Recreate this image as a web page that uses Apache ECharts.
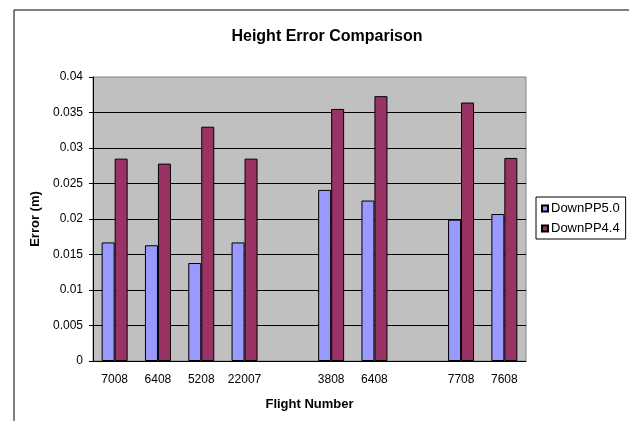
<!DOCTYPE html>
<html>
<head>
<meta charset="utf-8">
<script src="https://cdn.jsdelivr.net/npm/echarts@6/dist/echarts.min.js"></script>
<style>
  html, body { margin: 0; padding: 0; background: #fff; }
  #chart { width: 629px; height: 421px; }
</style>
</head>
<body>
<div id="chart"></div>
<script>
// flights (blank slots are gaps between groups)
const flights = ['7008', '6408', '5208', '22007', '', '3808', '6408', '', '7708', '7608'];
const downPP50 = [0.0167, 0.0163, 0.0138, 0.0167, '-', 0.0241, 0.0226, '-', 0.0199, 0.0207];
const downPP44 = [0.0285, 0.0278, 0.0330, 0.0285, '-', 0.0355, 0.0373, '-', 0.0364, 0.0286];

const font = 'Liberation Sans, Arial, sans-serif';

const chart = echarts.init(document.getElementById('chart'), null, { renderer: 'canvas' });

chart.setOption({
  animation: false,
  backgroundColor: '#fff',
  graphic: [
    {
      type: 'rect',
      shape: { x: 14, y: 10, width: 640, height: 430 },
      style: { fill: 'none', stroke: '#000', lineWidth: 1 },
      silent: true,
      z: -1
    }
  ],
  title: {
    text: 'Height Error Comparison',
    left: 322,
    top: 24,
    textAlign: 'center',
    textStyle: { fontFamily: font, fontSize: 16, fontWeight: 'bold', color: '#000' }
  },
  legend: {
    orient: 'vertical',
    left: 536,
    top: 197,
    itemWidth: 6,
    itemHeight: 6,
    itemGap: 7,
    padding: [5, 6, 4, 5],
    borderColor: '#000',
    borderWidth: 1,
    icon: 'rect',
    textStyle: { fontFamily: font, fontSize: 13, color: '#000', padding: [0, 0, 0, -2] },
    data: ['DownPP5.0', 'DownPP4.4']
  },
  grid: {
    left: 93,
    right: 103,
    top: 77,
    bottom: 60,
    show: true,
    backgroundColor: '#C0C0C0',
    borderColor: '#808080',
    borderWidth: 1
  },
  xAxis: {
    type: 'category',
    data: flights,
    name: 'Flight Number',
    nameLocation: 'middle',
    nameGap: 37,
    nameTextStyle: { fontFamily: font, fontSize: 13, fontWeight: 'bold', color: '#000' },
    axisLine: { lineStyle: { color: '#000', width: 1 } },
    axisTick: { interval: 0, length: 5, lineStyle: { color: '#000' } },
    axisLabel: { interval: 0, margin: 13, fontFamily: font, fontSize: 12, color: '#000' }
  },
  yAxis: {
    type: 'value',
    min: 0,
    max: 0.04,
    interval: 0.005,
    name: 'Error (m)',
    nameLocation: 'middle',
    nameGap: 50,
    nameTextStyle: { fontFamily: font, fontSize: 13, fontWeight: 'bold', color: '#000' },
    axisLine: { show: true, lineStyle: { color: '#000', width: 1 } },
    axisTick: { show: true, length: 4, lineStyle: { color: '#000' } },
    axisLabel: { margin: 10, fontFamily: font, fontSize: 12, color: '#000' },
    splitLine: { show: true, showMaxLine: false, lineStyle: { color: '#000', width: 1 } }
  },
  series: [
    {
      name: 'DownPP5.0',
      type: 'bar',
      data: downPP50,
      barGap: '0%',
      barCategoryGap: '40%',
      itemStyle: { color: '#9999FF', borderColor: '#000', borderWidth: 1 }
    },
    {
      name: 'DownPP4.4',
      type: 'bar',
      data: downPP44,
      barGap: '0%',
      barCategoryGap: '40%',
      itemStyle: { color: '#993366', borderColor: '#000', borderWidth: 1 }
    }
  ]
});
</script>
</body>
</html>
